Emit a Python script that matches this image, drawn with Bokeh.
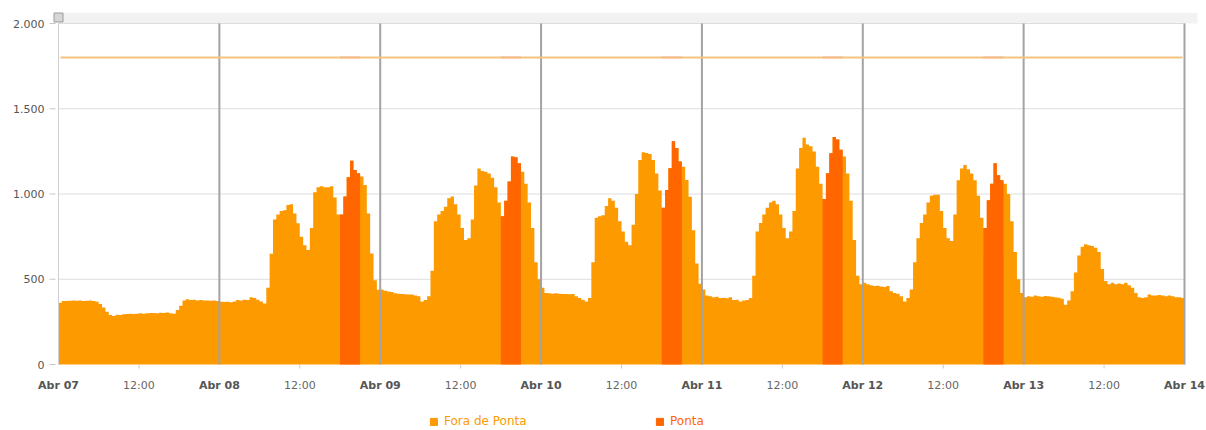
from bokeh.plotting import figure
from bokeh.models import ColumnDataSource, Range1d, Legend, LegendItem
from bokeh.embed import file_html
from bokeh.resources import INLINE

# ---------------- data (kW, half-hour intervals, 00:00 .. 23:30) ----------------
dias = ["Abr 07", "Abr 08", "Abr 09", "Abr 10", "Abr 11", "Abr 12", "Abr 13"]
rotulos_dias = ["Abr 07", "Abr 08", "Abr 09", "Abr 10", "Abr 11", "Abr 12", "Abr 13", "Abr 14"]
rotulo_meio_dia = "12:00"

abr07 = [362, 372, 372, 374, 375, 374, 375, 372, 374, 376, 372, 368,
         355, 335, 310, 290, 285, 292, 290, 295, 296, 298, 296, 298,
         300, 298, 300, 302, 302, 300, 304, 302, 305, 300, 298, 320,
         345, 375, 382, 378, 380, 376, 378, 375, 376, 374, 375, 372]
abr08 = [368, 366, 368, 365, 370, 378, 376, 380, 378, 395, 390, 380,
         370, 358, 450, 650, 850, 880, 900, 905, 935, 940, 886, 828,
         749, 700, 671, 800, 1010, 1040, 1045, 1040, 1040, 1045, 980, 880,
         880, 986, 1098, 1195, 1141, 1121, 1102, 1053, 886, 651, 494, 439]
abr09 = [440, 432, 428, 425, 418, 415, 414, 412, 410, 410, 405, 400,
         370, 378, 400, 550, 840, 880, 900, 925, 975, 985, 940, 880,
         800, 730, 740, 850, 1050, 1150, 1135, 1130, 1120, 1095, 1040, 950,
         870, 960, 1073, 1220, 1215, 1180, 1130, 1060, 950, 800, 600, 500]
abr10 = [450, 420, 418, 415, 418, 415, 414, 414, 412, 414, 400, 390,
         380, 370, 390, 600, 860, 870, 875, 930, 975, 960, 920, 840,
         780, 720, 700, 820, 1000, 1200, 1245, 1240, 1235, 1200, 1120, 1020,
         920, 1023, 1151, 1310, 1270, 1190, 1160, 1082, 984, 788, 592, 474]
abr11 = [440, 405, 400, 395, 398, 390, 392, 388, 395, 378, 380, 370,
         375, 378, 390, 520, 780, 830, 880, 920, 950, 960, 940, 880,
         800, 740, 780, 900, 1150, 1270, 1330, 1290, 1280, 1250, 1160, 1060,
         970, 1121, 1239, 1335, 1320, 1260, 1220, 1120, 960, 730, 520, 470]
abr12 = [480, 470, 465, 460, 462, 458, 455, 460, 430, 420, 415, 400,
         370, 390, 440, 600, 740, 830, 880, 950, 990, 995, 995, 900,
         800, 740, 725, 880, 1080, 1150, 1170, 1145, 1120, 1080, 990, 860,
         800, 964, 1060, 1180, 1110, 1080, 1060, 1000, 840, 660, 500, 420]
abr13 = [395, 400, 398, 405, 400, 398, 402, 400, 398, 395, 392, 385,
         350, 375, 430, 540, 640, 690, 705, 700, 695, 685, 660, 560,
         490, 470, 480, 470, 475, 470, 480, 465, 450, 420, 395, 390,
         395, 410, 405, 405, 408, 405, 400, 405, 400, 395, 395, 390]

consumo_por_dia = [abr07, abr08, abr09, abr10, abr11, abr12, abr13]
ponta_dias = ["Abr 08", "Abr 09", "Abr 10", "Abr 11", "Abr 12"]
ponta_inicio_h = 18.0
ponta_fim_h = 21.0
demanda_contratada = 1800
y_ticks = [0, 500, 1000, 1500, 2000]
y_tick_labels = ["0", "500", "1.000", "1.500", "2.000"]
y_max = 2000

FORA = "#FD9A00"
PONTA = "#FF6600"
FONT = "DejaVu Sans"

# ---------------- layout (page pixels) ----------------
W, H = 1206, 428
X_LEFT, X_RIGHT = 58, 1184      # plot area left/right
Y_ZERO, Y_TOP = 364, 23         # pixel rows of 0 and y_max
n_horas = 24 * len(dias)
PX_H = (X_RIGHT - X_LEFT) / n_horas
PX_KW = (Y_ZERO - Y_TOP) / y_max

def dx(px):   # pixels -> hours
    return px / PX_H

def dy(px):   # pixels -> kW
    return px / PX_KW

# ---------------- build sources (step series) ----------------
all_x, all_y = [], []
ponta_sources = []
for i, (dia, vals) in enumerate(zip(dias, consumo_por_dia)):
    px_, py_ = [], []
    for j, v in enumerate(vals):
        h = j * 0.5
        t = i * 24 + h
        all_x.append(t); all_y.append(v)
        if dia in ponta_dias and ponta_inicio_h <= h < ponta_fim_h:
            px_.append(t); py_.append(v)
    if px_:
        px_.append(i * 24 + ponta_fim_h); py_.append(py_[-1])
        ponta_sources.append(ColumnDataSource(dict(x=px_, y=py_)))
all_x.append(n_horas); all_y.append(all_y[-1])
src_fora = ColumnDataSource(dict(x=all_x, y=all_y))

p = figure(width=W, height=H,
           x_range=Range1d(-dx(X_LEFT), dx(W - X_LEFT)),
           y_range=Range1d(-dy(H - Y_ZERO), dy(Y_ZERO)),
           x_axis_type=None, y_axis_type=None,
           output_backend="svg", toolbar_location=None,
           min_border=0, min_border_left=0, min_border_right=0,
           min_border_top=0, min_border_bottom=0)
p.outline_line_color = None
p.background_fill_color = "white"
p.border_fill_color = "white"
p.grid.visible = False

# scrollbar band at top
p.quad(left=[0], right=[n_horas + dx(13)], bottom=[y_max], top=[y_max + dy(10.5)],
       fill_color="#F2F2F2", line_color=None)
p.rect(x=[0, n_horas], y=[y_max + dy(6)], width=9, height=9, width_units="screen",
       height_units="screen", fill_color="#D6D6D6", line_color="#9A9A9A", line_width=1)

# horizontal grid
grid_y = y_ticks[1:]
p.segment(x0=[0] * len(grid_y), y0=grid_y, x1=[n_horas] * len(grid_y), y1=grid_y,
          line_color="#DDDDDD", line_width=1)

# consumption areas (step)
p.varea_step(x="x", y1=0, y2="y", step_mode="after", source=src_fora, fill_color=FORA)
for src in ponta_sources:
    p.varea_step(x="x", y1=0, y2="y", step_mode="after", source=src, fill_color=PONTA)

# legend swatch renderers (no drawable point, only for the legend)
sem_ponto = [float("nan")]
leg_fora = p.vbar(x=sem_ponto, top=sem_ponto, width=0.5, fill_color=FORA, line_color=FORA)
leg_ponta = p.vbar(x=sem_ponto, top=sem_ponto, width=0.5, fill_color=PONTA, line_color=PONTA)

# left axis line
p.segment(x0=[0], y0=[0], x1=[0], y1=[y_max], line_color="#D0D0D0", line_width=1)

# day separator lines
dia_pos = [24 * k for k in range(1, len(dias) + 1)]
p.segment(x0=dia_pos, y0=[0] * len(dia_pos), x1=dia_pos, y1=[y_max] * len(dia_pos),
          line_color="#A3A3A3", line_width=2)

# contracted demand line
p.segment(x0=[dx(2)], y0=[demanda_contratada], x1=[n_horas - dx(2)], y1=[demanda_contratada],
          line_color="#F4C47E", line_width=2)
p_ini = [24 * dias.index(d) + ponta_inicio_h for d in ponta_dias]
p_fim = [24 * dias.index(d) + ponta_fim_h for d in ponta_dias]
p.segment(x0=p_ini, y0=[demanda_contratada] * len(p_ini), x1=p_fim,
          y1=[demanda_contratada] * len(p_ini), line_color="#F2BC8C", line_width=2)

# y axis ticks and labels
p.segment(x0=[-dx(9)] * len(y_ticks), y0=y_ticks, x1=[-dx(3)] * len(y_ticks), y1=y_ticks,
          line_color="#C8C8C8", line_width=1)
p.text(x=[0] * len(y_ticks), y=y_ticks, text=y_tick_labels, x_offset=-14,
       text_align="right", text_baseline="middle", text_font={"value": FONT},
       text_font_size="11px", text_color="#555555")

# x axis ticks and labels
meio_pos = [24 * k + 12 for k in range(len(dias))]
p.segment(x0=meio_pos, y0=[0] * len(meio_pos), x1=meio_pos, y1=[-dy(4)] * len(meio_pos),
          line_color="#C8C8C8", line_width=1)
p.text(x=meio_pos, y=[0] * len(meio_pos), text=[rotulo_meio_dia] * len(meio_pos), y_offset=21,
       text_align="center", text_baseline="middle", text_font={"value": FONT},
       text_font_size="11px", text_color="#666666")
dias_x = [24 * k for k in range(len(rotulos_dias))]
p.text(x=dias_x, y=[0] * len(dias_x), text=rotulos_dias, y_offset=21,
       text_align="center", text_baseline="middle", text_font={"value": FONT},
       text_font_size="11px", text_font_style="bold", text_color="#555555")

# legends
for label, rend, col, xloc in [("Fora de Ponta", leg_fora, FORA, 429),
                               ("Ponta", leg_ponta, PONTA, 655)]:
    leg = Legend(items=[LegendItem(label=label, renderers=[rend])], location=(xloc, 0),
                 orientation="horizontal", glyph_width=9, glyph_height=9, label_height=12,
                 label_standoff=6, label_text_font=FONT, label_text_font_size="12px",
                 label_text_color=col, border_line_color=None, background_fill_alpha=0,
                 padding=0, margin=0, spacing=0)
    p.add_layout(leg)

open("out.html", "w").write(file_html(p, INLINE))
